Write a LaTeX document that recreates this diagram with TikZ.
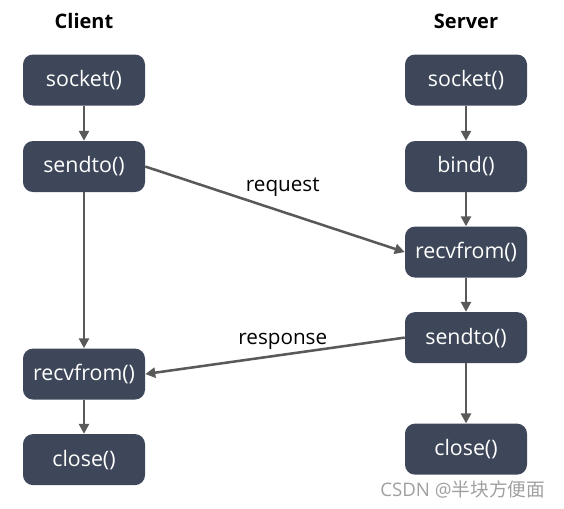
\documentclass[tikz,border=0pt]{standalone}
\usepackage{fontspec}
\setmainfont{Open Sans}
\newfontfamily\cjkfont{Noto Sans CJK SC}
\usetikzlibrary{positioning,arrows.meta}
\definecolor{slate}{HTML}{3D4759}
\definecolor{arrowgray}{HTML}{595959}
\definecolor{markgray}{HTML}{A0A0A0}

\begin{document}
\begin{tikzpicture}[
  call/.style={
    fill=slate,
    text=white,
    shape=rectangle,
    rounded corners=7.5pt,
    minimum width=91.5pt,
    minimum height=38.25pt,
    inner sep=0pt,
    font=\fontsize{16}{18}\selectfont,
  },
  head/.style={
    font=\fontsize{15}{17}\selectfont\bfseries,
  },
  msg/.style={
    font=\fontsize{15.5}{17}\selectfont,
  },
  flow/.style={
    draw=arrowgray,
    line width=1.9pt,
    -{Triangle[length=7.5pt,width=7.5pt]},
  }]
  \useasboundingbox (0,0) rectangle (423pt,-381pt);
  % titles
  \node[head] (client) at (63pt,-16pt) {Client};
  \node[head] (server) at (349.5pt,-16pt) {Server};
  % client side
  \node[call] (csock) at (63pt,-60pt) {socket()};
  \node[call, below=26.25pt of csock] (csend) {sendto()};
  \node[call, below=117pt of csend] (crecv) {recvfrom()};
  \node[call, below=25.5pt of crecv] (cclose) {close()};
  % server side
  \node[call] (ssock) at (349.5pt,-60pt) {socket()};
  \node[call, below=26.25pt of ssock] (sbind) {bind()};
  \node[call, below=25.5pt of sbind] (srecv) {recvfrom()};
  \node[call, below=25.5pt of srecv] (ssend) {sendto()};
  \node[call, below=45pt of ssend] (sclose) {close()};
  \draw[flow] (csock) -- (csend);
  \draw[flow] (csend) -- (crecv);
  \draw[flow] (crecv) -- (cclose);
  \draw[flow] (ssock) -- (sbind);
  \draw[flow] (sbind) -- (srecv);
  \draw[flow] (srecv) -- (ssend);
  \draw[flow] (ssend) -- (sclose);
  \draw[flow] (csend.east) -- node[msg, pos=0.53, above=7pt] {request} (srecv.west);
  \draw[flow] (ssend.west) -- node[msg, pos=0.47, above=0pt] {response} (crecv.east);
  % watermark
  \node[text=markgray, font=\fontsize{14}{16}\selectfont] (mark) at (347pt,-366.75pt) {CSDN @{\cjkfont 半块方便面}};
\end{tikzpicture}
\end{document}
